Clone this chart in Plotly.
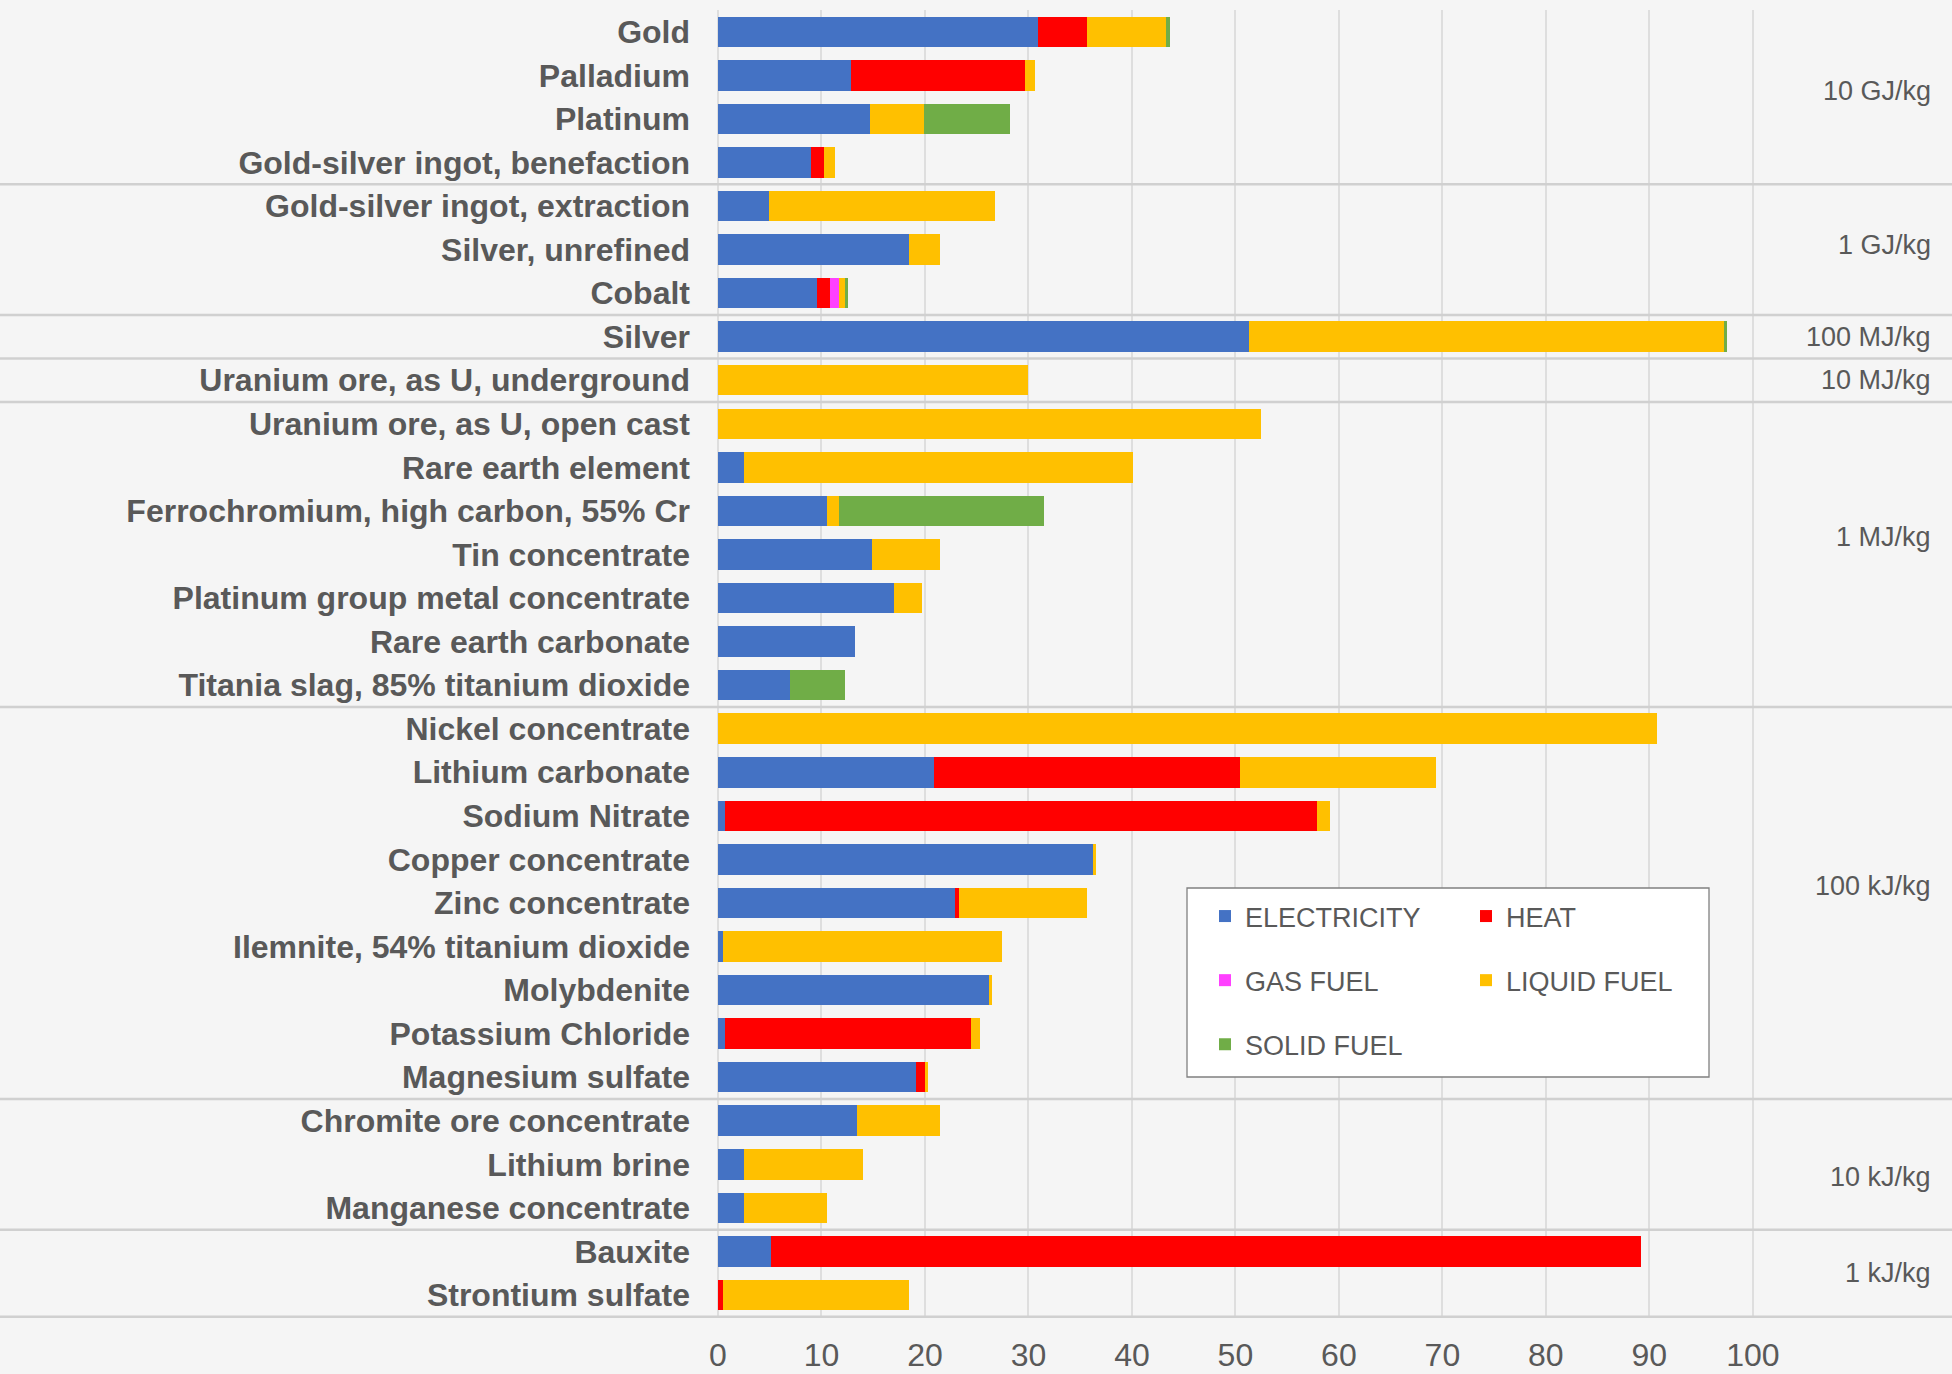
import plotly.graph_objects as go

# ---------------- data ----------------
materials = [
    "Gold", "Palladium", "Platinum", "Gold-silver ingot, benefaction",
    "Gold-silver ingot, extraction", "Silver, unrefined", "Cobalt",
    "Silver",
    "Uranium ore, as U, underground",
    "Uranium ore, as U, open cast", "Rare earth element",
    "Ferrochromium, high carbon, 55% Cr", "Tin concentrate",
    "Platinum group metal concentrate", "Rare earth carbonate",
    "Titania slag, 85% titanium dioxide",
    "Nickel concentrate", "Lithium carbonate", "Sodium Nitrate",
    "Copper concentrate", "Zinc concentrate", "Ilemnite, 54% titanium dioxide",
    "Molybdenite", "Potassium Chloride", "Magnesium sulfate",
    "Chromite ore concentrate", "Lithium brine", "Manganese concentrate",
    "Bauxite", "Strontium sulfate",
]

electricity = [30.9, 12.9, 14.65, 9.0, 4.9, 18.45, 9.6, 51.3, 0.0, 0.0, 2.48, 10.5, 14.9, 17.0, 13.2,
               6.93, 0.0, 20.85, 0.7, 36.2, 22.9, 0.45, 26.15, 0.7, 19.1, 13.47, 2.48, 2.48, 5.16, 0.0]
heat = [4.75, 16.8, 0.0, 1.2, 0.0, 0.0, 1.2, 0.0, 0.0, 0.0, 0.0, 0.0, 0.0, 0.0, 0.0,
        0.0, 0.0, 29.55, 57.2, 0.0, 0.35, 0.0, 0.0, 23.7, 0.87, 0.0, 0.0, 0.0, 84.04, 0.45]
gas_fuel = [0.0, 0.0, 0.0, 0.0, 0.0, 0.0, 0.85, 0.0, 0.0, 0.0, 0.0, 0.0, 0.0, 0.0, 0.0,
            0.0, 0.0, 0.0, 0.0, 0.0, 0.0, 0.0, 0.0, 0.0, 0.0, 0.0, 0.0, 0.0, 0.0, 0.0]
liquid_fuel = [7.65, 0.9, 5.3, 1.15, 21.9, 3.0, 0.6, 45.9, 30.0, 52.5, 37.6, 1.16, 6.55, 2.7, 0.0,
               0.0, 90.7, 19.0, 1.2, 0.35, 12.4, 26.95, 0.35, 0.9, 0.29, 7.98, 11.57, 8.02, 0.0, 18.0]
solid_fuel = [0.35, 0.0, 8.3, 0.0, 0.0, 0.0, 0.35, 0.3, 0.0, 0.0, 0.0, 19.84, 0.0, 0.0, 0.0,
              5.37, 0.0, 0.0, 0.0, 0.0, 0.0, 0.0, 0.0, 0.0, 0.0, 0.0, 0.0, 0.0, 0.0, 0.0]

# scale groups: (label, first row, last row)
unit_groups = [
    ("10 GJ/kg", 0, 3), ("1 GJ/kg", 4, 6), ("100 MJ/kg", 7, 7), ("10 MJ/kg", 8, 8),
    ("1 MJ/kg", 9, 15), ("100 kJ/kg", 16, 24), ("10 kJ/kg", 25, 27), ("1 kJ/kg", 28, 29),
]
x_ticks = list(range(0, 101, 10))

# ---------------- style / layout ----------------
W, H = 1952, 1374
L, R, T, B = 718, 194, 10, 56
PW = W - L - R
PH = H - T - B
BG = "#f5f5f5"
TXT = "#595959"
GRID = "#dedede"
SEP = "#d0d0d0"
FONT = "Liberation Sans, Arial, sans-serif"


def px_to_paper_x(px):
    return (px - L) / PW


def px_to_paper_y(py):
    return (H - B - py) / PH


series = [
    ("ELECTRICITY", electricity, "#4472C4", "legend"),
    ("HEAT", heat, "#FF0000", "legend2"),
    ("GAS FUEL", gas_fuel, "#FF40FF", "legend"),
    ("LIQUID FUEL", liquid_fuel, "#FFC000", "legend2"),
    ("SOLID FUEL", solid_fuel, "#70AD47", "legend"),
]

fig = go.Figure()
for name, vals, color, leg in series:
    fig.add_trace(go.Bar(
        y=materials, x=vals, name=name, orientation="h",
        marker=dict(color=color, line=dict(width=0)),
        legend=leg, legendgroup=name, hoverinfo="skip",
    ))

shapes = []
# group separators
sep_after = [g[2] for g in unit_groups]
for r in sep_after:
    shapes.append(dict(type="line", xref="paper", yref="y",
                       x0=px_to_paper_x(0), x1=px_to_paper_x(W),
                       y0=r + 0.5, y1=r + 0.5,
                       line=dict(color=SEP, width=2.5), layer="above"))
# legend frame
shapes.append(dict(type="rect", xref="paper", yref="paper",
                   x0=px_to_paper_x(1187), x1=px_to_paper_x(1709),
                   y0=px_to_paper_y(1077), y1=px_to_paper_y(888),
                   fillcolor="white", line=dict(color="#808080", width=1.3), layer="above"))

annotations = []
label_rows = [1.35, 4.9, 7.0, 8.0, 11.6, 19.6, 26.3, 28.5]
for (lab, a, b), yr in zip(unit_groups, label_rows):
    annotations.append(dict(text=lab, xref="paper", yref="y",
                            x=px_to_paper_x(1933), y=yr, xanchor="right", yanchor="middle",
                            showarrow=False, font=dict(family=FONT, size=27, color=TXT)))

legend_common = dict(
    bgcolor="rgba(0,0,0,0)", borderwidth=0,
    font=dict(family=FONT, size=27, color=TXT),
    traceorder="grouped", tracegroupgap=26,
    xanchor="left", yanchor="top", orientation="v",
)

fig.update_layout(
    width=W, height=H,
    margin=dict(l=L, r=R, t=T, b=B, pad=0),
    paper_bgcolor=BG, plot_bgcolor=BG,
    barmode="stack", bargap=0.30,
    showlegend=True,
    legend=dict(x=px_to_paper_x(1205), y=px_to_paper_y(892), **legend_common),
    legend2=dict(x=px_to_paper_x(1466), y=px_to_paper_y(892), **legend_common),
    shapes=shapes, annotations=annotations,
    xaxis=dict(
        range=[0, 100.5], tickvals=x_ticks, ticktext=[str(v) for v in x_ticks],
        showgrid=True, gridcolor=GRID, gridwidth=2,
        zeroline=True, zerolinecolor=GRID, zerolinewidth=2,
        showline=False, ticks="outside", ticklen=9, tickcolor="rgba(0,0,0,0)",
        tickfont=dict(family=FONT, size=32, color=TXT), automargin=False,
    ),
    yaxis=dict(
        type="category", categoryorder="array", categoryarray=materials,
        autorange="reversed", showgrid=False, zeroline=False, showline=False,
        ticks="", ticklabelstandoff=27, automargin=False,
        tickfont=dict(family=FONT, size=32, color=TXT, weight="bold"),
    ),
)

fig.write_html(
    "out.html",
    config={"displayModeBar": False},
    post_script="document.body.style.margin='0';document.body.style.overflow='hidden';",
)
